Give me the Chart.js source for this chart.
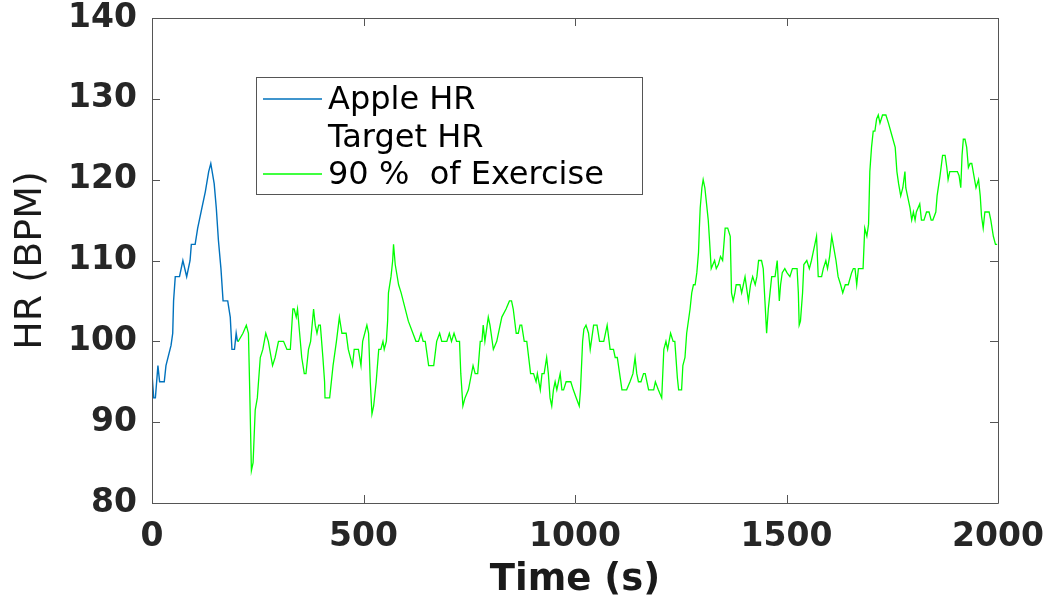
<!DOCTYPE html>
<html lang="en">
<head>
  <meta charset="UTF-8">
  <title>Apple HR vs Exercise</title>
  <script src="https://cdn.jsdelivr.net/npm/chart.js@4.4.0/dist/chart.umd.min.js"></script>
  <style>
    body {
      margin: 0;
      background: #ffffff;
    }
    canvas {
      display: block;
    }
  </style>
</head>
<body>

<canvas id="hrChart" width="1052" height="603"></canvas>

<script>
  // Apple HR (blue, first ~200 s)
  const appleTime = [0, 4, 8, 14, 18, 29, 33, 45, 49, 51, 55, 65, 73, 82, 90, 93, 102, 108, 118, 126, 134, 139, 147, 152, 157, 163, 168, 179, 185, 189, 195, 199, 202];
  const appleHR   = [96, 93, 93, 97, 95, 95, 97, 99.5, 101, 105, 108, 108, 110, 108, 110, 112, 112, 114, 116.5, 118.5, 121, 122, 119.5, 116.5, 112.5, 109, 105, 105, 103, 99, 99, 101, 100];

  // 90 % of Exercise (green)
  const exerciseTime = [
    202, 204, 215, 223, 228, 231, 235, 239, 244, 249, 256, 262, 269, 275, 285, 291, 299, 311, 319, 327,
    333, 336, 341, 344, 349, 354, 360, 364, 370, 375, 382, 386, 390, 394, 398, 404, 408, 409, 420, 428,
    436, 443, 449, 459, 464, 474, 478, 488, 494, 498, 508, 512, 516, 520, 524, 530, 536, 541, 546, 549,
    554, 557, 559, 565, 569, 571, 575, 583, 589, 606, 624, 630, 636, 641, 646, 654, 658, 666, 673, 680,
    685, 697, 703, 708, 714, 720, 727, 730, 735, 740, 748, 759, 764, 770, 776, 780, 783, 787, 795, 799,
    807, 815, 827, 837, 845, 850, 854, 861, 866, 870, 874, 880, 886, 895, 902, 908, 911, 918, 922, 927,
    933, 937, 941, 945, 949, 953, 957, 961, 965, 969, 973, 979, 990, 996, 1003, 1010, 1013, 1018, 1021, 1026,
    1032, 1036, 1040, 1044, 1052, 1058, 1068, 1076, 1083, 1091, 1095, 1100, 1111, 1122, 1130, 1137, 1142, 1146, 1150, 1156,
    1162, 1166, 1174, 1186, 1190, 1197, 1205, 1210, 1215, 1219, 1226, 1232, 1236, 1242, 1245, 1252, 1255, 1260, 1264, 1272,
    1276, 1280, 1284, 1288, 1292, 1294, 1296, 1300, 1303, 1307, 1311, 1315, 1318, 1322, 1326, 1330, 1334, 1339, 1344, 1349,
    1355, 1361, 1367, 1370, 1374, 1378, 1381, 1390, 1394, 1398, 1402, 1406, 1410, 1415, 1420, 1426, 1430, 1434, 1441, 1445,
    1449, 1453, 1457, 1461, 1465, 1473, 1478, 1483, 1486, 1490, 1496, 1501, 1508, 1514, 1520, 1525, 1528, 1530, 1533, 1538,
    1541, 1548, 1554, 1559, 1563, 1567, 1571, 1575, 1583, 1587, 1593, 1597, 1602, 1607, 1612, 1617, 1622, 1628, 1633, 1639,
    1646, 1654, 1658, 1662, 1666, 1670, 1681, 1685, 1690, 1694, 1697, 1701, 1705, 1709, 1713, 1717, 1721, 1727, 1735, 1741,
    1749, 1757, 1761, 1765, 1770, 1775, 1780, 1782, 1786, 1792, 1796, 1800, 1804, 1807, 1815, 1819, 1825, 1831, 1837, 1842,
    1846, 1853, 1856, 1863, 1869, 1875, 1879, 1882, 1886, 1894, 1904, 1908, 1912, 1915, 1918, 1922, 1926, 1930, 1934, 1938,
    1943, 1948, 1954, 1958, 1961, 1965, 1969, 1979, 1983, 1989, 1994, 1998
  ];
  const exerciseHR = [
    100, 100, 101, 102, 101, 94, 84, 85, 91.5, 93, 98, 99, 101, 100, 97, 98, 100, 100, 99, 99,
    104, 104, 103, 104, 101, 98, 96, 96, 99, 100, 104, 102, 101, 102, 102, 98, 95, 93, 93, 97,
    100, 103, 101, 101, 99, 97, 99, 99, 97, 100, 102, 101, 95, 91, 92, 95, 99, 99, 100, 99,
    100, 102.5, 106, 108, 110, 112, 109.5, 107, 106, 102.5, 100, 100, 101, 100, 100, 97, 97, 97, 100, 101,
    100, 100, 101, 100, 101, 100, 100, 96, 92, 93, 94, 97, 96, 96, 100, 100, 102, 100, 103, 102,
    99, 100, 103, 104, 105, 105, 104, 101, 101, 102, 102, 100, 100, 96, 96, 95, 96, 94, 96, 96,
    98, 96, 93, 92, 94, 95, 94, 95, 96, 94, 94, 95, 95, 94, 93, 92, 94, 100, 101.5, 102,
    101, 99, 100.5, 102, 102, 100, 100, 102, 99, 99, 98, 98, 94, 94, 95, 96, 98, 96, 95, 95,
    96, 96, 94, 94, 95, 94, 93, 99, 100, 99, 101, 100, 100, 95.5, 94, 94, 97, 98, 101, 104,
    106, 107, 107, 108.5, 111, 114, 116.5, 119, 120, 119, 117, 115, 112.5, 109, 109.5, 110, 109, 109.5, 110.5, 110,
    114, 114, 113, 106, 105, 106, 107, 107, 106, 107, 108, 106.5, 105, 107, 108, 107, 108, 110, 110, 109,
    105, 101, 104, 106, 108, 108, 110, 105, 107, 108.5, 109, 108.5, 108, 109, 109, 109, 106, 102, 102.5, 106,
    109.5, 110, 109, 110, 111, 112, 113, 108, 108, 109, 110, 109, 110.5, 113, 111.5, 110, 108, 107, 106, 107,
    107, 108.5, 109, 109, 107, 109, 109, 114, 113, 114.5, 121, 124, 126, 126, 127.5, 128, 127, 128, 128, 127,
    125.5, 124, 121, 119.5, 118, 119, 121, 119, 118, 116.5, 115, 116, 115, 116, 117, 115, 115, 116, 116, 115,
    115, 116, 118, 120.5, 123, 123, 121.5, 120, 121, 121, 121, 120.5, 119, 123, 125, 125, 124, 121.5, 122, 122,
    120.5, 119, 120, 118, 115.5, 114, 116, 116, 115, 113, 112, 112
  ];

  // Axis ticks
  const timeTicks = [0, 500, 1000, 1500, 2000];
  const hrTicks = [80, 90, 100, 110, 120, 130, 140];

  const toPoints = (xs, ys) => xs.map((x, i) => ({ x: x, y: ys[i] }));

  // MATLAB-like box with inward tick marks on all four sides
  const boxPlugin = {
    id: 'boxPlugin',
    afterDatasetsDraw(chart) {
      const { ctx, chartArea: a, scales } = chart;
      const tick = 8;
      ctx.save();
      ctx.strokeStyle = '#555555';
      ctx.lineWidth = 1;
      ctx.beginPath();
      ctx.rect(a.left + 0.5, a.top + 0.5, a.right - a.left, a.bottom - a.top);
      scales.x.ticks.forEach(t => {
        const px = Math.round(scales.x.getPixelForValue(t.value)) + 0.5;
        ctx.moveTo(px, a.bottom); ctx.lineTo(px, a.bottom - tick);
        ctx.moveTo(px, a.top); ctx.lineTo(px, a.top + tick);
      });
      scales.y.ticks.forEach(t => {
        const py = Math.round(scales.y.getPixelForValue(t.value)) + 0.5;
        ctx.moveTo(a.left, py); ctx.lineTo(a.left + tick, py);
        ctx.moveTo(a.right, py); ctx.lineTo(a.right - tick, py);
      });
      ctx.stroke();
      ctx.restore();
    }
  };

  // Legend box inside the axes, like the original figure
  const insideLegend = {
    id: 'insideLegend',
    afterDraw(chart) {
      const { ctx, chartArea: a } = chart;
      const left = a.left + 104, top = a.top + 59, w = 386, h = 117;
      ctx.save();
      ctx.fillStyle = '#ffffff';
      ctx.fillRect(left, top, w, h);
      ctx.strokeStyle = '#555555';
      ctx.lineWidth = 1;
      ctx.strokeRect(left + 0.5, top + 0.5, w, h);
      ctx.font = '32px "DejaVu Sans"';
      ctx.textBaseline = 'alphabetic';
      chart.data.datasets.forEach((ds, i) => {
        const cy = top + 22 + i * 37.5;
        ctx.strokeStyle = ds.borderColor;
        ctx.lineWidth = 1.3;
        ctx.beginPath();
        ctx.moveTo(left + 7, cy);
        ctx.lineTo(left + 66, cy);
        ctx.stroke();
        ctx.fillStyle = '#000000';
        ctx.fillText(ds.label, left + 72, cy + 10);
      });
      ctx.restore();
    }
  };

  new Chart(document.getElementById('hrChart'), {
    type: 'line',
    data: {
      datasets: [
        {
          label: 'Apple HR',
          data: toPoints(appleTime, appleHR),
          borderColor: '#0072BD',
          borderWidth: 1.4,
          pointRadius: 0,
          tension: 0
        },
        {
          label: 'Target HR',
          data: [],
          borderColor: 'rgba(0,0,0,0)',
          borderWidth: 1,
          pointRadius: 0
        },
        {
          label: '90 %  of Exercise',
          data: toPoints(exerciseTime, exerciseHR),
          borderColor: '#00FF00',
          borderWidth: 1.3,
          pointRadius: 0,
          tension: 0
        }
      ]
    },
    options: {
      responsive: false,
      animation: false,
      devicePixelRatio: 1,
      layout: { padding: { top: 18, right: 54, left: 0, bottom: 0 } },
      plugins: {
        legend: { display: false },
        tooltip: { enabled: false }
      },
      scales: {
        x: {
          type: 'linear',
          min: 0,
          max: 2000,
          afterBuildTicks: s => { s.ticks = timeTicks.map(v => ({ value: v })); },
          afterFit: s => { s.height = 100; s.paddingLeft = 0; s.paddingRight = 0; },
          grid: { display: false, drawTicks: false },
          border: { display: false },
          ticks: {
            padding: 15,
            maxRotation: 0,
            color: '#262626',
            callback: v => String(v),
            font: { family: 'DejaVu Sans', size: 33, weight: 'bold' }
          },
          title: {
            display: true,
            text: 'Time (s)',
            color: '#1a1a1a',
            padding: { top: 0, bottom: 0 },
            font: { family: 'DejaVu Sans', size: 37, weight: 'bold' }
          }
        },
        y: {
          min: 80,
          max: 140,
          afterBuildTicks: s => { s.ticks = hrTicks.map(v => ({ value: v })); },
          afterFit: s => { s.width = 152; s.paddingTop = 0; s.paddingBottom = 0; },
          grid: { display: false, drawTicks: false },
          border: { display: false },
          ticks: {
            padding: 15,
            color: '#262626',
            callback: v => String(v),
            font: { family: 'DejaVu Sans', size: 33, weight: 'bold' }
          },
          title: {
            display: true,
            text: 'HR (BPM)',
            color: '#1a1a1a',
            padding: { top: 8, bottom: 0 },
            font: { family: 'DejaVu Sans', size: 38 }
          }
        }
      }
    },
    plugins: [boxPlugin, insideLegend]
  });
</script>

</body>
</html>
